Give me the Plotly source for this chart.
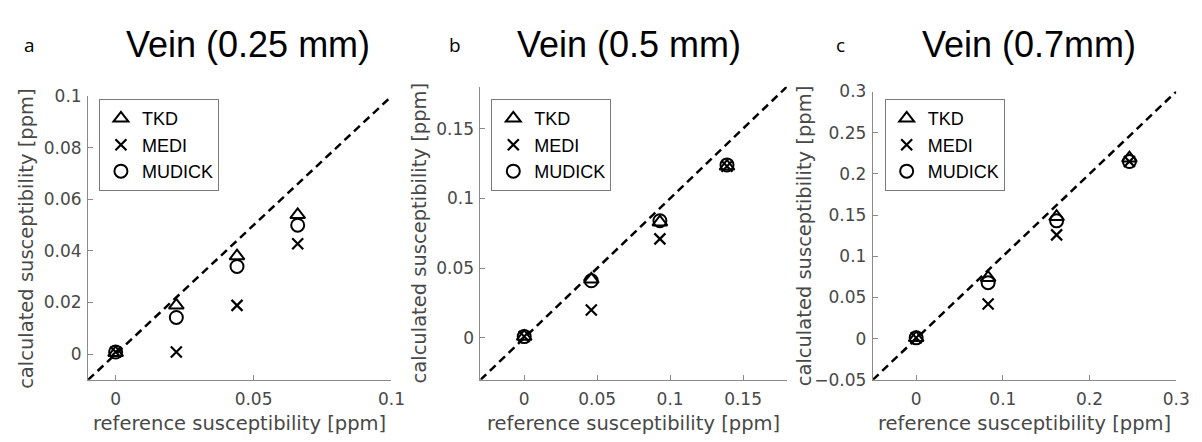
import plotly.graph_objects as go

W, H = 1202, 442

# ---------------- data ----------------
titles = ["Vein (0.25 mm)", "Vein (0.5 mm)", "Vein (0.7mm)"]
panel_letters = ["a", "b", "c"]
methods = ["TKD", "MEDI", "MUDICK"]

ref_a = [0.0, 0.022, 0.044, 0.066]
tkd_a = [0.0005, 0.0189, 0.0380, 0.0540]
medi_a = [0.0008, 0.0008, 0.0189, 0.0428]
mudick_a = [0.0008, 0.0142, 0.0340, 0.0500]

ref_b = [0.0, 0.046, 0.093, 0.139]
tkd_b = [0.001, 0.042, 0.083, 0.123]
medi_b = [0.001, 0.020, 0.071, 0.123]
mudick_b = [0.001, 0.041, 0.084, 0.124]

ref_c = [0.0, 0.083, 0.162, 0.246]
tkd_c = [0.001, 0.074, 0.148, 0.219]
medi_c = [0.001, 0.042, 0.126, 0.215]
mudick_c = [0.001, 0.068, 0.143, 0.215]

ranges = [[-0.01, 0.1], [-0.03, 0.18], [-0.05, 0.3]]
xticks = [[0, 0.05, 0.1], [0, 0.05, 0.1, 0.15], [0, 0.1, 0.2, 0.3]]
yticks = [[0, 0.02, 0.04, 0.06, 0.08, 0.1], [0, 0.05, 0.1, 0.15],
          [-0.05, 0, 0.05, 0.1, 0.15, 0.2, 0.25, 0.3]]

panels = [
    (ref_a, tkd_a, medi_a, mudick_a),
    (ref_b, tkd_b, medi_b, mudick_b),
    (ref_c, tkd_c, medi_c, mudick_c),
]

# ---------------- layout geometry (pixels) ----------------
boxes = [(81, 388, 82, 379), (478, 788, 72, 379), (875, 1182, 77, 379)]
legend_pos = [(92, 85), (489, 85), (887, 85)]
title_x = [243, 628, 1033]
letter_x = [22, 452, 842]
ylabel_x = [18, 416, 806]

def px(x):
    return x / W

def py(y):
    return 1 - y / H

AX_COLOR = "#8a8a8a"
TICK_FONT = dict(family="DejaVu Sans, sans-serif", size=17, color="#484848")
LABEL_FONT = dict(family="DejaVu Sans, sans-serif", size=19.5, color="#484848")

fig = go.Figure()
marker_specs = [
    dict(symbol="triangle-up-open", size=13, line=dict(width=2, color="black"), color="black"),
    dict(symbol="x-thin-open", size=11, line=dict(width=2.2, color="black"), color="black"),
    dict(symbol="circle-open", size=13, line=dict(width=2, color="black"), color="black"),
]

annotations = []
layout_axes = {}
for i, (ref, tkd, medi, mud) in enumerate(panels):
    n = "" if i == 0 else str(i + 1)
    xa, ya = "x" + n, "y" + n
    lg = "legend" + n
    lo, hi = ranges[i]
    # identity line across the axis range
    fig.add_trace(go.Scatter(x=[lo, hi], y=[lo, hi], mode="lines",
                             line=dict(color="black", width=2.5, dash="8px,5px"),
                             showlegend=False, xaxis=xa, yaxis=ya, hoverinfo="skip"))
    for name, vals, spec in zip(methods, (tkd, medi, mud), marker_specs):
        fig.add_trace(go.Scatter(x=ref, y=vals, mode="markers", name=name,
                                 marker=spec, xaxis=xa, yaxis=ya, legend=lg))
    x0, x1, y0, y1 = boxes[i]
    layout_axes["xaxis" + n] = dict(
        domain=[px(x0), px(x1)], range=ranges[i], anchor=ya,
        tickvals=xticks[i], ticks="inside", ticklen=5, tickcolor=AX_COLOR,
        showline=True, linecolor=AX_COLOR, linewidth=1, showgrid=False,
        zeroline=False, tickfont=TICK_FONT, fixedrange=True, ticklabelstandoff=4)
    layout_axes["yaxis" + n] = dict(
        domain=[py(y1), py(y0)], range=ranges[i], anchor=xa,
        tickvals=yticks[i], ticks="inside", ticklen=5, tickcolor=AX_COLOR,
        showline=True, linecolor=AX_COLOR, linewidth=1, showgrid=False,
        zeroline=False, tickfont=TICK_FONT, fixedrange=True, ticklabelstandoff=2)
    lx, ly = legend_pos[i]
    layout_axes[lg] = dict(
        x=px(lx), y=py(ly), xanchor="left", yanchor="top",
        bordercolor="#7a7a7a", borderwidth=1, bgcolor="white",
        font=dict(family="Liberation Sans, Arial, sans-serif", size=18, color="black"),
        tracegroupgap=0, itemwidth=32)
    # title
    annotations.append(dict(text=titles[i], x=px(title_x[i]), y=py(28), xref="paper", yref="paper",
                            showarrow=False, xanchor="center", yanchor="middle",
                            font=dict(family="Liberation Sans, Arial, sans-serif", size=36, color="black")))
    annotations.append(dict(text=panel_letters[i], x=px(letter_x[i]), y=py(28), xref="paper", yref="paper",
                            showarrow=False, xanchor="center", yanchor="middle",
                            font=dict(family="Open Sans, sans-serif", size=19, color="black")))
    annotations.append(dict(text="reference susceptibility [ppm]", x=px((x0 + x1) / 2), y=py(425),
                            xref="paper", yref="paper", showarrow=False,
                            xanchor="center", yanchor="middle", font=LABEL_FONT))
    annotations.append(dict(text="calculated susceptibility [ppm]", x=px(ylabel_x[i]), y=py((y0 + y1) / 2),
                            xref="paper", yref="paper", showarrow=False, textangle=-90,
                            xanchor="center", yanchor="middle", font=LABEL_FONT))

fig.update_layout(
    width=W, height=H, margin=dict(l=0, r=0, t=0, b=0),
    paper_bgcolor="white", plot_bgcolor="white",
    annotations=annotations, **layout_axes)

fig.write_html("out.html")
